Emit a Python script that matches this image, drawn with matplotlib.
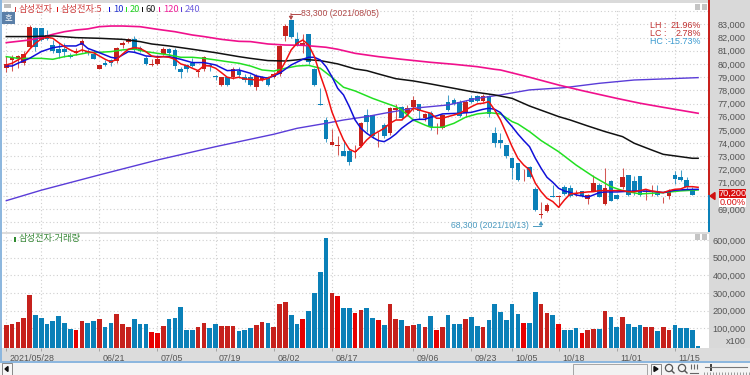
import numpy as np
import matplotlib
matplotlib.use("Agg")
import matplotlib.pyplot as plt
from matplotlib.patches import Rectangle
from matplotlib.transforms import ScaledTranslation

plt.rcParams['font.family'] = ['Noto Sans CJK KR', 'DejaVu Sans']

opens = [79700,80300,80350,80050,81250,82700,82700,82200,81450,81100,
         81100,80700,80850,81450,80950,80750,79600,80100,80300,80250,
         81450,81650,81850,81200,80450,79950,80000,80750,81100,81050,
         79600,79900,80100,79400,79650,79900,79100,78400,79000,79000,
         79500,79000,79000,78250,78750,79000,79000,79250,82100,83300,
         81850,81450,82250,79600,76950,75750,73850,73800,73400,73400,
         73350,73800,76150,76150,74200,75350,74800,76500,76750,76300,
         76700,77000,75900,76250,75150,75150,77150,77300,77150,76300,
         77450,77550,77200,77550,74750,74250,73850,72900,72500,71550,
         72200,70550,68550,68850,70000,69950,70650,70600,70150,70350,
         69800,70400,70850,69350,71100,70050,70650,71600,71100,71500,
         70300,70300,70250,69750,70000,71600,71450,71200,70450,70200]
highs = [80600,80700,80700,81000,82950,82800,82750,82600,81800,81550,
         81600,80800,81200,81900,81100,81050,79950,80300,80400,81300,
         81750,81950,82100,81350,80600,80350,80700,81300,81200,81200,
         79800,80000,80450,79600,80600,80050,79150,79000,79000,79800,
         79800,79250,79200,79200,79100,79100,79350,81400,83000,83300,
         82450,82300,82300,79700,78150,75950,75050,74500,74250,73600,
         73850,75600,76550,76150,74850,75500,76750,77000,76800,76900,
         77550,77000,76300,76400,75550,76200,77650,77400,77250,77250,
         77650,77650,77750,77650,75250,74750,73850,72900,72500,72000,
         72300,70700,69500,69450,70850,70100,70850,70850,70450,70400,
         70150,71600,70950,72100,71200,70150,72100,71600,71500,71500,
         70550,70850,70800,69900,70550,71850,71950,71400,70700,70200]
lows = [79400,79500,79700,79900,81200,81000,81750,81800,80800,80450,
        80500,80450,80700,80900,80700,80350,79600,79850,79850,80050,
        81200,81550,80900,80900,79900,79850,79950,80700,80500,79650,
        78950,79400,79800,79000,79500,79450,78750,78350,78350,78850,
        78900,78650,78300,78050,78700,78350,78950,79100,81700,82000,
        81350,80850,80000,78350,76850,74050,73850,73100,73000,72350,
        72850,73700,74850,74400,73700,74350,74650,75800,75750,76050,
        76450,75850,75700,75000,74700,75100,76450,76900,76000,76000,
        77050,77150,77100,76000,73700,73600,72850,71250,71150,71150,
        71350,68850,68300,68750,69900,69150,70050,69950,70000,69950,
        69400,70350,69900,69300,69600,69750,70550,70000,70050,70000,
        69700,70000,70000,69450,69800,70900,71150,70550,70050,70200]
closes = [80000,80500,80600,80750,82800,81250,81800,81850,81000,80850,
          80900,80500,80950,81750,80800,80400,79900,79900,80050,81200,
          81550,81850,81050,81000,80000,80000,80350,81100,80850,79850,
          79350,79650,79850,79450,80550,79850,79000,79000,78400,79650,
          79150,78750,78400,79100,79000,78400,79250,81350,82900,82050,
          81450,81550,80150,78400,76900,74300,74100,73850,73050,72550,
          73400,75550,75600,74500,74250,74500,76650,76650,75900,76650,
          77250,76400,76200,75200,75200,76150,76500,76950,76050,77150,
          77100,77200,77550,76200,74000,74000,73050,72100,71200,71600,
          71400,68900,68600,69300,69950,70000,70150,70000,70250,70000,
          70050,71000,69950,70600,69650,69800,71450,70050,70400,70050,
          70400,70400,70050,69800,70400,71250,71200,70700,70100,70200]

# volume in thousands, last session has no bar yet
volumes_k = [117,125,134,157,289,172,157,121,142,171,132,96,92,142,132,142,153,108,129,182,
             125,108,150,125,125,79,75,111,153,157,220,89,89,108,129,100,125,115,115,115,
             85,92,100,119,136,129,108,235,251,176,125,150,199,297,417,610,302,283,215,215,
             186,203,215,157,146,117,239,153,146,111,119,125,108,171,92,104,174,121,121,153,
             161,111,108,146,235,190,148,235,182,129,132,304,235,184,172,125,89,92,100,75,
             92,96,96,199,161,108,161,121,108,117,104,104,85,108,92,117,100,100,92,0]
volume_dirs = ("RRRRRBBBBBBBRRBBRBBRRRBBBRRRBBBBBRRBBRRRBBB"[:43]
               + "RRBRRRBBRBBBBRRBBRRBBRBRRBRRBRBRRBBBRBBRBB"[:42]
               + "BBBBRBBRRBRBBBRRRBRBBRBBBRRBRRBBBB" + "B")
bright_bars = [12, 25, 26, 51, 57, 60, 64, 74, 89, 95, 99]

ma5 = [79.92,80.05,80.30,80.55,81.11,81.56,81.89,82.02,81.94,81.61,
       81.31,81.06,80.85,81.06,80.93,80.85,80.60,80.35,80.15,80.35,
       80.75,81.11,81.23,81.18,80.93,80.60,80.50,80.55,80.50,80.35,
       80.00,79.87,79.67,79.49,79.87,79.84,79.67,79.34,78.99,78.91,
       78.99,78.86,78.83,78.78,78.78,78.91,79.16,79.41,80.17,81.06,
       81.56,81.81,81.43,80.55,79.16,77.90,76.38,75.25,74.24,73.53,
       73.33,73.73,74.24,74.62,74.87,75.12,75.50,75.75,75.75,76.13,
       76.64,76.51,76.38,76.26,75.88,75.88,76.01,76.13,76.26,76.51,
       76.76,76.97,77.02,77.14,76.51,75.75,74.74,73.73,72.85,72.34,
       71.97,70.96,70.32,69.82,69.57,69.14,69.69,70.15,70.20,70.25,
       70.30,70.32,70.40,70.40,70.40,70.40,70.40,70.32,70.32,70.40,
       70.50,70.37,70.32,70.25,70.40,70.50,70.53,70.70,70.70,70.65]

ma10_x = [0,1,2,4,6,8,10,12,13,14,16,18,19,20,21,22,23,24,26,28,30,32,34,36,38,40,42,43,45,46,47,49,
          51,52,53,54,55,56,57,58,59,60,61,62,63,64,65,66,67,68,69,70,71,72,73,74,75,76,78,80,82,83,84,
          85,86,87,88,89,90,91,92,93,94,95,96,97,98,99,100,101,102,103,105,107,109,111,113,115,117,119]
ma10_y = [79.84,79.84,80.05,80.42,80.93,81.23,81.36,81.36,81.56,81.18,80.85,80.50,80.42,80.68,80.93,
          80.88,80.75,80.60,80.55,80.55,80.35,80.10,80.10,79.92,79.49,79.54,79.29,79.09,78.91,79.09,
          79.29,79.92,80.35,80.50,80.50,80.30,79.79,79.04,78.15,77.65,76.76,75.75,75.12,74.74,74.44,
          74.19,74.11,74.36,74.69,75.12,75.45,75.75,75.80,75.80,75.96,76.06,76.21,76.23,76.26,76.33,
          76.56,76.64,76.56,76.31,75.75,75.25,74.69,74.19,73.73,72.85,72.09,71.41,71.03,70.58,70.37,
          70.27,70.07,70.00,69.90,70.07,70.25,70.30,70.30,70.35,70.38,70.35,70.25,70.43,70.48,70.50]

ma20_x = [0,2,4,6,8,10,12,14,16,18,20,22,24,26,28,30,32,34,36,38,40,42,44,46,48,50,52,54,56,58,60,
          63,65,67,68,70,72,73,75,77,79,81,83,85,87,88,90,92,95,98,101,104,106,109,113,116,119]
ma20_y = [80.55,80.42,80.42,80.42,80.35,80.55,80.68,80.85,80.88,80.93,81.06,81.13,80.93,80.80,80.68,
          80.50,80.50,80.42,80.30,80.17,80.05,79.84,79.54,79.46,79.67,79.84,79.89,79.67,78.99,78.23,
          77.95,77.39,77.07,76.76,76.51,75.75,75.37,75.20,75.20,75.50,75.96,76.21,76.31,76.21,75.63,
          75.45,74.87,74.19,73.35,72.34,71.46,70.70,70.40,70.15,70.25,70.38,70.45]

ma60_x = [0,4,8,12,16,20,23,25,28,32,36,40,42,45,48,51,54,57,60,62,64,67,70,73,77,80,84,87,90,95,
          97,100,103,106,108,111,113,115,118,119]
ma60_y = [82.07,82.07,82.12,81.99,81.94,81.86,81.69,81.51,81.36,81.11,80.85,80.55,80.42,80.25,80.22,
          80.35,80.25,80.00,79.62,79.49,79.24,78.88,78.71,78.48,78.15,77.90,77.65,77.39,76.81,76.01,
          75.75,75.30,74.87,74.49,73.99,73.48,73.15,73.03,72.85,72.85]

ma120_x = [0,4,6,8,10,12,14,16,18,20,23,26,29,32,34,37,40,42,45,48,51,55,57,60,64,68,73,77,81,84,85,
           90,95,99,105,109,113,119]
ma120_y = [81.61,81.81,81.99,82.24,82.44,82.57,82.65,82.82,82.87,82.87,82.82,82.62,82.44,82.19,82.07,
           81.86,81.71,81.69,81.51,81.43,81.41,81.26,81.11,80.80,80.55,80.35,80.12,79.97,79.79,79.59,
           79.54,78.99,78.40,77.98,77.39,77.02,76.71,76.26]

ma240_x = [0,6,16,26,36,46,50,55,58,62,65,70,76,81,85,90,96,102,108,113,119]
ma240_y = [69.64,70.43,71.59,72.72,73.73,74.67,75.12,75.50,75.75,76.01,76.26,76.64,76.89,77.39,
           77.65,78.03,78.20,78.53,78.78,78.86,78.96]

tick_idx = [0, 16, 26, 36, 46, 56, 70, 80, 87, 95, 105, 115]
tick_labels = ["2021/05/28", "06/21", "07/05", "07/19", "08/02", "08/17", "09/06", "09/23",
               "10/05", "10/18", "11/01", "11/15"]
price_ticks = list(range(68000, 85000, 1000))
vol_ticks = [100000, 200000, 300000, 400000, 500000, 600000]

RED, BLUE, BRIGHT = "#C6211C", "#0A80B8", "#E80000"
LATIN = ["Liberation Sans", "DejaVu Sans"]
W, H = 750, 375


def pane(fig, x0, y0, x1, y1, **kw):
    # axes placed by pixel box, y counted from the top
    return fig.add_axes([x0 / W, 1 - y1 / H, (x1 - x0) / W, (y1 - y0) / H], **kw)


def box(ax, x0, y0, x1, y1, **kw):
    ax.add_patch(Rectangle((x0, y0), x1 - x0, y1 - y0, linewidth=0, **kw))


fig = plt.figure(figsize=(7.5, 3.75), dpi=100, facecolor="white")

# window chrome under the charts
bg = pane(fig, 0, 0, W, H, zorder=0)
bg.set_xlim(0, W); bg.set_ylim(H, 0); bg.axis("off")
box(bg, 0, 0, W, 3, color="#DADADA")
box(bg, 709, 0, W, 362, color="#D9D9D9")
box(bg, 0, 348, W, 362, color="#DCDCDC")
box(bg, 0, 232, 710, 234, color="#DCDCDC")
box(bg, 0, 362, W, H, color="#F4F4F4")
box(bg, 0, 361.2, W, 362.6, color="#8DB7DE")
box(bg, 0, 0, 1.6, 362, color="#8DB7DE")

x = np.arange(len(closes))
xlim = (-0.57, 120.87)

# price pane
ax = pane(fig, 3, 8, 709, 232, zorder=1, facecolor="white")
ax.set_xlim(*xlim)
ax.set_ylim(67265, 84235)
ax.yaxis.tick_right()
ax.set_yticks(price_ticks)
ax.set_yticklabels(["" if p in (68000, 70000, 84000) else f"{p:,}" for p in price_ticks],
                   ha="right", family=LATIN, fontsize=6.6, color="#555555")
ax.tick_params(axis="y", length=0, pad=26.6)
ax.set_xticks(tick_idx + [6])
ax.tick_params(axis="x", length=0, labelbottom=False)
ax.grid(True, color="#CFCFCF", lw=0.8, ls=(0, (1, 2.2)))
ax.set_axisbelow(True)
for s in ax.spines.values():
    s.set_visible(False)

for i in x:
    up = closes[i] >= opens[i]
    c = RED if up else BLUE
    ax.vlines(i, lows[i], highs[i], color=c, lw=0.75, alpha=0.75, zorder=2)
    lo, hi = min(opens[i], closes[i]), max(opens[i], closes[i])
    ax.bar(i, max(hi - lo, 50), bottom=lo, width=0.8, color=c, lw=0, zorder=2.5)

ax.plot(ma240_x, np.array(ma240_y) * 1000, color="#5A3CD8", lw=1.0, zorder=3)
ax.plot(ma120_x, np.array(ma120_y) * 1000, color="#F0108C", lw=1.2, zorder=3)
ax.plot(ma60_x, np.array(ma60_y) * 1000, color="#111111", lw=1.1, zorder=3)
ax.plot(ma20_x, np.array(ma20_y) * 1000, color="#22E022", lw=1.1, zorder=3.1)
ax.plot(ma10_x, np.array(ma10_y) * 1000, color="#1010D8", lw=1.1, zorder=3.2)
ax.plot(x, np.array(ma5) * 1000, color="#F01010", lw=1.1, zorder=3.3)

# volume pane
vol = np.array(volumes_k) * 1000
vol_floor = -12800
axv = pane(fig, 3, 234, 709, 348, zorder=1, facecolor="white")
axv.set_xlim(*xlim)
axv.set_ylim(vol_floor, 635000)
axv.yaxis.tick_right()
axv.set_yticks(vol_ticks)
axv.set_yticklabels([f"{v:,}" for v in vol_ticks], ha="right", family=LATIN, fontsize=6.6,
                    color="#555555")
axv.tick_params(axis="y", length=0, pad=26.6)
vol_colors = [BRIGHT if i in bright_bars else (RED if d == "R" else BLUE)
              for i, d in enumerate(volume_dirs)]
axv.bar(x, vol - vol_floor, bottom=vol_floor, width=0.8, color=vol_colors, lw=0, zorder=2)
axv.set_xticks(tick_idx)
axv.set_xticks([6], minor=True)
axv.set_xticklabels(tick_labels, ha="left", family=LATIN, fontsize=6.4, color="#555555")
axv.tick_params(axis="x", which="both", length=2, width=0.6, color="#9A9A9A", pad=2)
offset = ScaledTranslation(2.5 / 72, 0, fig.dpi_scale_trans)
for lab in axv.get_xticklabels():
    lab.set_transform(lab.get_transform() + offset)
axv.grid(True, which="both", color="#CFCFCF", lw=0.8, ls=(0, (1, 2.2)))
axv.set_axisbelow(True)
for s in axv.spines.values():
    s.set_visible(False)

# overlay: legends, notes, price tag, controls
top = pane(fig, 0, 0, W, H, zorder=5)
top.set_xlim(0, W); top.set_ylim(H, 0); top.axis("off")

box(top, 708.3, 0, 710, 195, color="#C8201C")
box(top, 708.3, 195, 710, 232, color="#0A80B8")
top.fill([710, 715, 715], [196, 192.5, 199.5], color="#D01010")
box(top, 719, 189, 746, 198, color="#D81010")
box(top, 719, 198, 746, 206.5, color="white")
top.text(732.5, 193.4, "70,200", color="white", fontsize=6.6, family=LATIN, ha="center", va="center")
top.text(732.5, 202.2, "0.00%", color="#D81010", fontsize=6.6, family=LATIN, ha="center", va="center")
top.text(746, 342, "x100", color="#555555", fontsize=6.6, family=LATIN, ha="right", va="center")

# legend row
legend = [(16, "삼성전자", "#D04040", "#D04040"), (58, "삼성전자:5", "#D04040", "#E01010"),
          (110, "10", "#2030D0", "#1010D8"), (127, "20", "#20D020", "#22E022"),
          (143, "60", "#222222", "#111111"), (160, "120", "#F0209A", "#F0108C"),
          (182, "240", "#7060E0", "#5A3CD8")]
for lx, name, tc, sq in legend:
    box(top, lx - 1.5, 7, lx + 0.3, 12, color=sq)
    top.text(lx + 3, 9.5, name, color=tc, fontsize=6.7, va="center", ha="left")
box(top, 14, 237, 15.8, 242, color="#2E8B2E")
top.text(19, 239, "삼성전자:거래량", color="#3A8A3A", fontsize=6.7, va="center", ha="left")

box(top, 4, 4, 11, 8, color="#BDBDBD")
box(top, 2, 12, 15, 24, color="#5A7FA8")
top.text(8.5, 18, "호", color="white", fontsize=6, ha="center", va="center")
for by in (4, 234):
    box(top, 695, by, 700, by + 5.5, color="#C4C4C4")
    box(top, 702, by, 707, by + 5.5, color="#C4C4C4")

# high / low notes
top.text(300.7, 13.5, "83,300 (2021/08/05)", color="#B04848", fontsize=6.2, family=LATIN, va="center")
top.annotate("", xy=(291, 20), xytext=(291, 13.5),
             arrowprops=dict(arrowstyle="-|>,head_width=0.12,head_length=0.2", color="#B04848", lw=0.7, shrinkA=0, shrinkB=0))
top.plot([291, 299.5], [13.5, 13.5], color="#B04848", lw=0.7)
top.text(451, 225, "68,300 (2021/10/13)", color="#4A9AC0", fontsize=6.2, family=LATIN, va="center")
top.annotate("", xy=(541, 221), xytext=(541, 226),
             arrowprops=dict(arrowstyle="-|>,head_width=0.12,head_length=0.2", color="#4A9AC0", lw=0.7, shrinkA=0, shrinkB=0))
top.plot([533, 541], [226, 226], color="#4A9AC0", lw=0.7)

stats = [(25, "LH :", "21.96%", "#C03030"), (33.3, "LC :", "2.78%", "#C03030"),
         (41.6, "HC :", "-15.73%", "#3A9AD0")]
for sy, lab, val, col in stats:
    top.text(649.5, sy, lab, color=col, fontsize=6.4, family=LATIN, va="center")
    top.text(701, sy, val, color=col, fontsize=6.4, family=LATIN, va="center", ha="right")

# scroll strip controls
top.add_patch(Rectangle((2, 363), 10, 12, fc="#F7F7F7", ec="#777777", lw=0.6))
top.fill([5, 8, 8], [369, 366.5, 371.5], color="#111111")
top.add_patch(Rectangle((573, 364), 74, 11, fc="#F2F2F2", ec="#999999", lw=0.6))
top.add_patch(Rectangle((651, 364), 10, 11, fc="#F7F7F7", ec="#777777", lw=0.6))
top.fill([654, 654, 658], [366.5, 371.5, 369], color="#111111")
for cx in (669, 682):
    top.add_patch(plt.Circle((cx, 368), 3.6, fc="none", ec="#555555", lw=0.9))
    top.plot([cx + 2.5, cx + 5], [370.5, 373], color="#555555", lw=1)
top.vlines([691, 694, 697], 364, 369, color="#666666", lw=0.8)
top.plot([690, 698], [372.5, 372.5], color="#666666", lw=0.8)
top.plot([705, 747], [367, 367], color="#777777", lw=0.8)
box(top, 710, 364, 712, 371, color="#444444")
top.vlines(np.arange(704, 750, 3), 372, 375, color="#777777", lw=0.5)

fig.savefig("out.png", dpi=100)
